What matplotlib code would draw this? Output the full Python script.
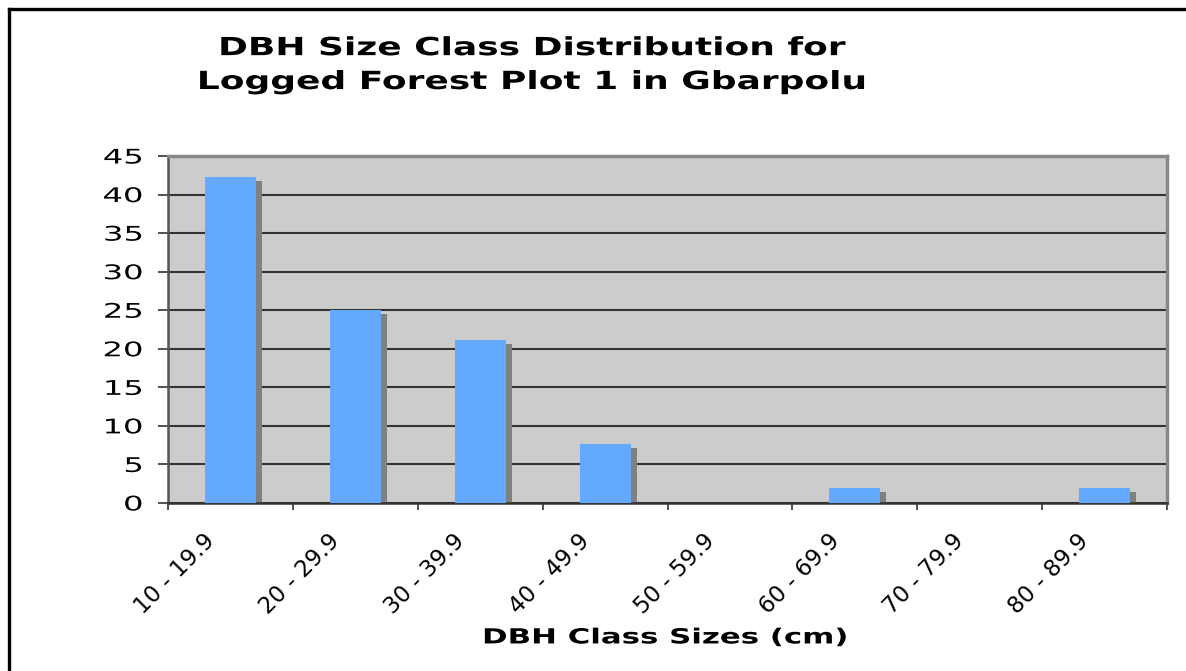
import matplotlib
matplotlib.use("Agg")
import matplotlib.pyplot as plt
from matplotlib.lines import Line2D
from matplotlib.patheffects import AbstractPathEffect
from matplotlib.transforms import ScaledTranslation, Affine2D
import numpy as np

# DBH size classes and share of stems (%) in each class
size_classes = ["10 - 19.9", "20 - 29.9", "30 - 39.9", "40 - 49.9",
                "50 - 59.9", "60 - 69.9", "70 - 79.9", "80 - 89.9"]
percent_stems = [42.3, 25.0, 21.2, 7.7, 0.0, 1.9, 0.0, 1.9]
y_ticks = [0, 5, 10, 15, 20, 25, 30, 35, 40, 45]

title = "DBH Size Class Distribution for\nLogged Forest Plot 1 in Gbarpolu"
x_title = "DBH Class Sizes (cm)"

BAR = "#62A9FF"
SHADOW = "#808080"
PLOT_BG = "#CCCCCC"

plt.rcParams["font.family"] = ["DejaVu Sans"]


class WideText(AbstractPathEffect):
    """Draw text glyphs widened along the baseline (a wide, Verdana-like look)."""

    def __init__(self, sx, anchor="center"):
        super().__init__()
        self.sx = sx
        self.anchor = anchor

    def draw_path(self, renderer, gc, tpath, affine, rgbFace=None):
        ext = tpath.get_extents()
        if self.anchor == "right":
            x0 = ext.x1
        elif self.anchor == "left":
            x0 = ext.x0
        else:
            x0 = 0.5 * (ext.x0 + ext.x1)
        widen = Affine2D().translate(-x0, 0).scale(self.sx, 1).translate(x0, 0)
        renderer.draw_path(gc, tpath, widen + affine, rgbFace)


fig = plt.figure(figsize=(11.86, 6.71), dpi=100)
ax = fig.add_axes([0.1417, 0.2504, 0.8423, 0.5171])
ax.set_facecolor(PLOT_BG)

x = np.arange(len(size_classes))
width = 0.41

# drop shadow behind each bar, shifted right and down
shadow_tr = ax.transData + ScaledTranslation(0.06, -0.04, fig.dpi_scale_trans)
ax.bar(x, percent_stems, width=width, color=SHADOW, transform=shadow_tr,
       zorder=2, clip_on=True)
ax.bar(x, percent_stems, width=width, color=BAR, zorder=3)

ax.set_xlim(-0.5, len(size_classes) - 0.5)
ax.set_ylim(0, 45)

# horizontal gridlines
ax.set_yticks(y_ticks)
ax.yaxis.grid(True, color="#333333", linewidth=1.5, zorder=1)
ax.set_axisbelow(True)

ax.tick_params(axis="y", direction="out", length=7.2, width=1.2,
               color="#333333", pad=11, labelsize=14.5)
for lbl in ax.get_yticklabels():
    lbl.set_path_effects([WideText(1.6, anchor="right")])

# category boundary ticks on x, labels at category centres
ax.set_xticks(np.arange(len(size_classes) + 1) - 0.5)
ax.set_xticklabels([])
ax.tick_params(axis="x", which="major", direction="out", length=5,
               width=1.2, color="#333333")
ax.set_xticks(x, minor=True)
ax.set_xticklabels(size_classes, minor=True, rotation=45, ha="right",
                   va="center", rotation_mode="anchor", fontsize=16.5)
ax.tick_params(axis="x", which="minor", length=0, pad=25)
label_shift = ScaledTranslation(-0.19, 0, fig.dpi_scale_trans)
for lbl in ax.get_xticklabels(minor=True):
    lbl.set_transform(lbl.get_transform() + label_shift)

for side in ("top", "right"):
    ax.spines[side].set_color("#888888")
    ax.spines[side].set_linewidth(2.5)
ax.spines["left"].set_color("#555555")
ax.spines["left"].set_linewidth(1.8)
ax.spines["bottom"].set_color("#333333")
ax.spines["bottom"].set_linewidth(1.8)

fig.text(0.449, 0.903, title, ha="center", va="center", fontsize=18,
         fontweight="bold", linespacing=1.52,
         path_effects=[WideText(1.44)])
fig.text(0.561, 0.050, x_title, ha="center", va="center", fontsize=15,
         fontweight="bold", path_effects=[WideText(1.48)])

# chart-area frame: left and top edges
fx, fy = 9 / 1186, 1 - 9 / 671
fig.add_artist(Line2D([fx, fx], [0, fy], transform=fig.transFigure,
                      color="black", linewidth=2.4, solid_capstyle="projecting"))
fig.add_artist(Line2D([fx, 1], [fy, fy], transform=fig.transFigure,
                      color="black", linewidth=2.4, solid_capstyle="projecting"))

fig.savefig("out.png", dpi=100, facecolor="white")
